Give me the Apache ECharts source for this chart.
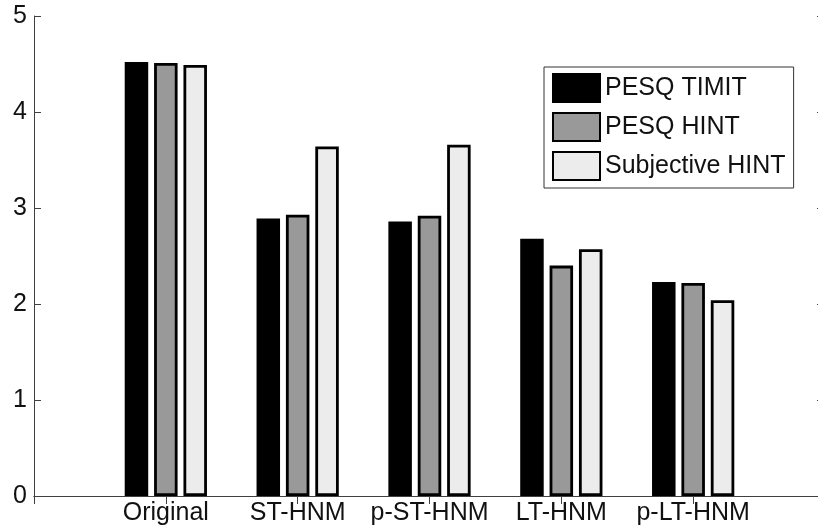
<!DOCTYPE html>
<html>
<head>
<meta charset="utf-8">
<script src="https://cdn.jsdelivr.net/npm/echarts@6/dist/echarts.min.js"></script>
<style>
  html, body { margin: 0; padding: 0; background: #fff; }
  #chart { width: 818px; height: 530px; }
</style>
</head>
<body>
<div id="chart"></div>
<script>
var categories = ["Original", "ST-HNM", "p-ST-HNM", "LT-HNM", "p-LT-HNM"];
var pesqTimit = [4.52, 2.89, 2.86, 2.68, 2.23];
var pesqHint = [4.51, 2.93, 2.92, 2.40, 2.22];
var subjectiveHint = [4.49, 3.64, 3.66, 2.57, 2.04];
var yTicks = [0, 1, 2, 3, 4, 5];

// pad with an empty slot on each side so the axis runs from 0 to 6 like the MATLAB xlim
var pad = function (arr) {
  return ["-"].concat(arr).concat(["-"]);
};
var axisCats = [""].concat(categories).concat([""]);

var font = "'Liberation Sans', Arial, sans-serif";
var lineColor = "#404040";

var makeBar = function (name, data, color) {
  return {
    name: name,
    type: "bar",
    barWidth: 23.5,
    barGap: "25%",
    data: pad(data),
    itemStyle: {
      color: color,
      borderColor: "#000",
      borderWidth: 2.8,
    },
  };
};

var chart = echarts.init(document.getElementById("chart"));
chart.setOption({
  animation: false,
  backgroundColor: "#fff",
  grid: {
    left: 34,
    width: 791,
    top: 16,
    bottom: 34,
    containLabel: false,
    outerBoundsMode: "none",
  },
  legend: {
    orient: "vertical",
    left: 544,
    top: 67,
    padding: [6, 8, 7, 8],
    icon: "rect",
    itemWidth: 47,
    itemHeight: 28,
    itemGap: 9,
    itemTextGap: 6,
    borderColor: "#333",
    borderWidth: 1,
    backgroundColor: "#fff",
    selectedMode: false,
    textStyle: {
      fontFamily: font,
      fontSize: 25,
      lineHeight: 28,
      color: "#111",
    },
    data: ["PESQ TIMIT", "PESQ HINT", "Subjective HINT"],
  },
  xAxis: [
    {
      type: "category",
      data: axisCats,
      boundaryGap: false,
      position: "bottom",
      axisLine: { lineStyle: { color: lineColor, width: 1 } },
      axisTick: { inside: true, length: 7, lineStyle: { color: lineColor } },
      axisLabel: {
        interval: 0,
        margin: 5,
        fontFamily: font,
        fontSize: 25,
        color: "#111",
      },
      splitLine: { show: false },
    },
    {
      type: "category",
      data: axisCats,
      boundaryGap: false,
      position: "top",
      axisLine: { lineStyle: { color: lineColor, width: 1 } },
      axisTick: { inside: true, length: 8, lineStyle: { color: lineColor } },
      axisLabel: { show: false },
      splitLine: { show: false },
    },
  ],
  yAxis: [
    {
      type: "value",
      min: yTicks[0],
      max: yTicks[yTicks.length - 1],
      interval: 1,
      position: "left",
      axisLine: { show: true, lineStyle: { color: lineColor, width: 1 } },
      axisTick: { show: true, inside: true, length: 7, lineStyle: { color: lineColor } },
      axisLabel: {
        margin: 7,
        fontFamily: font,
        fontSize: 25,
        color: "#111",
      },
      splitLine: { show: false },
    },
    {
      type: "value",
      min: yTicks[0],
      max: yTicks[yTicks.length - 1],
      interval: 1,
      position: "right",
      axisLine: { show: true, lineStyle: { color: lineColor, width: 1 } },
      axisTick: { show: true, inside: true, length: 8, lineStyle: { color: lineColor } },
      axisLabel: { show: false },
      splitLine: { show: false },
    },
  ],
  series: [
    makeBar("PESQ TIMIT", pesqTimit, "#000"),
    makeBar("PESQ HINT", pesqHint, "#999999"),
    makeBar("Subjective HINT", subjectiveHint, "#ececec"),
  ],
});
</script>
</body>
</html>
